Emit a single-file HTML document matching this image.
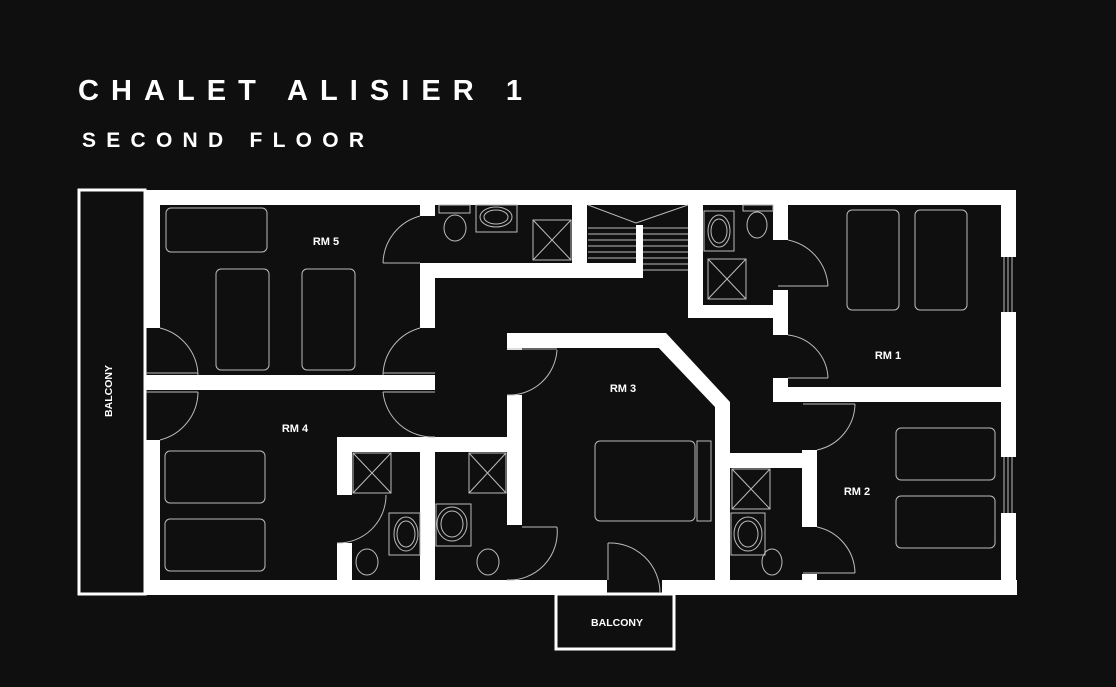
<!DOCTYPE html>
<html><head><meta charset="utf-8"><style>
html,body{margin:0;padding:0;background:#0f0f0f;}
svg{display:block}
</style></head><body>
<svg width="1116" height="687" viewBox="0 0 1116 687" xmlns="http://www.w3.org/2000/svg" font-family="Liberation Sans, sans-serif">
<rect width="1116" height="687" fill="#0f0f0f"/>
<text x="78" y="100" fill="#fff" font-size="29" font-weight="bold" textLength="444" lengthAdjust="spacing">CHALET ALISIER 1</text>
<text x="82" y="147" fill="#fff" font-size="21" font-weight="bold" textLength="282" lengthAdjust="spacing">SECOND FLOOR</text>

<!-- balconies -->
<rect x="79" y="190" width="66" height="404" fill="#0f0f0f" stroke="#fff" stroke-width="3"/>
<rect x="556" y="594" width="118" height="55" fill="#0f0f0f" stroke="#fff" stroke-width="3"/>

<g fill="#fff">
<!-- outer -->
<rect x="145" y="190" width="871" height="15"/>
<rect x="145" y="190" width="15" height="138"/>
<rect x="145" y="375" width="290" height="15"/>
<rect x="145" y="440" width="15" height="155"/>
<rect x="145" y="580" width="462" height="15"/>
<rect x="662" y="580" width="355" height="15"/>
<rect x="1001" y="190" width="15" height="67"/>
<rect x="1001" y="312" width="15" height="145"/>
<rect x="1001" y="513" width="15" height="82"/>
<!-- rm5 bath -->
<rect x="420" y="205" width="15" height="11"/>
<rect x="420" y="263" width="15" height="65"/>
<rect x="420" y="263" width="223" height="15"/>
<rect x="572" y="205" width="15" height="60"/>
<rect x="636" y="225" width="7" height="53"/>
<!-- rm1 bath -->
<rect x="688" y="205" width="15" height="113"/>
<rect x="688" y="305" width="100" height="13"/>
<rect x="773" y="205" width="15" height="35"/>
<rect x="773" y="290" width="15" height="45"/>
<rect x="773" y="378" width="15" height="24"/>
<rect x="773" y="387" width="230" height="15"/>
<!-- rm3 -->
<rect x="507" y="333" width="156" height="15"/>
<polygon points="656,333 666,333 730,402 730,412 715,412 715,407 656,345"/>
<rect x="715" y="405" width="15" height="176"/>
<rect x="507" y="333" width="15" height="17"/>
<rect x="507" y="395" width="15" height="130"/>
<!-- rm4 baths -->
<rect x="337" y="437" width="185" height="15"/>
<rect x="337" y="437" width="15" height="58"/>
<rect x="337" y="543" width="15" height="40"/>
<rect x="420" y="437" width="15" height="145"/>
<!-- rm2 bath -->
<rect x="730" y="453" width="87" height="15"/>
<rect x="802" y="450" width="15" height="77"/>
<rect x="802" y="574" width="15" height="8"/>
</g>

<g fill="none" stroke="#bbb" stroke-width="1">
<!-- windows -->
<line x1="1004" y1="257" x2="1004" y2="312"/><line x1="1008" y1="257" x2="1008" y2="312"/><line x1="1012" y1="257" x2="1012" y2="312"/>
<line x1="1004" y1="457" x2="1004" y2="513"/><line x1="1008" y1="457" x2="1008" y2="513"/><line x1="1012" y1="457" x2="1012" y2="513"/>
<!-- beds rm5 -->
<rect x="166" y="208" width="101" height="44" rx="5"/>
<rect x="216" y="269" width="53" height="101" rx="5"/>
<rect x="302" y="269" width="53" height="101" rx="5"/>
<!-- rm4 -->
<rect x="165" y="451" width="100" height="52" rx="5"/>
<rect x="165" y="519" width="100" height="52" rx="5"/>
<!-- rm1 -->
<rect x="847" y="210" width="52" height="100" rx="5"/>
<rect x="915" y="210" width="52" height="100" rx="5"/>
<!-- rm2 -->
<rect x="896" y="428" width="99" height="52" rx="5"/>
<rect x="896" y="496" width="99" height="52" rx="5"/>
<!-- rm3 -->
<rect x="595" y="441" width="100" height="80" rx="5"/>
<rect x="697" y="441" width="14" height="80"/>
<!-- showers -->
<g>
<rect x="533" y="220" width="38" height="40"/><path d="M533 220L571 260M571 220L533 260"/>
<rect x="708" y="259" width="38" height="40"/><path d="M708 259L746 299M746 259L708 299"/>
<rect x="353" y="453" width="38" height="40"/><path d="M353 453L391 493M391 453L353 493"/>
<rect x="469" y="453" width="37" height="40"/><path d="M469 453L506 493M506 453L469 493"/>
<rect x="732" y="469" width="38" height="40"/><path d="M732 469L770 509M770 469L732 509"/>
</g>
<!-- basins -->
<rect x="476" y="205" width="41" height="27"/><ellipse cx="496" cy="217" rx="16" ry="10"/><ellipse cx="496" cy="217" rx="12" ry="7"/>
<rect x="704" y="211" width="30" height="40"/><ellipse cx="719" cy="231" rx="11" ry="16"/><ellipse cx="719" cy="231" rx="8" ry="12"/>
<rect x="389" y="513" width="31" height="42"/><ellipse cx="406" cy="534" rx="12" ry="17"/><ellipse cx="406" cy="534" rx="9" ry="13"/>
<rect x="436" y="504" width="35" height="42"/><ellipse cx="452" cy="524" rx="15" ry="17"/><ellipse cx="452" cy="524" rx="11" ry="13"/>
<rect x="731" y="513" width="34" height="42"/><ellipse cx="748" cy="534" rx="14" ry="17"/><ellipse cx="748" cy="534" rx="10" ry="13"/>
<!-- toilets -->
<ellipse cx="455" cy="228" rx="11" ry="13"/><rect x="439" y="205" width="31" height="8"/>
<ellipse cx="757" cy="225" rx="10" ry="13"/><rect x="743" y="205" width="30" height="6"/>
<ellipse cx="367" cy="562" rx="11" ry="13"/>
<ellipse cx="488" cy="562" rx="11" ry="13"/>
<ellipse cx="772" cy="562" rx="10" ry="13"/>
<!-- door arcs -->
<path d="M383 263A50 50 0 0 1 420 216"/><line x1="383" y1="263" x2="420" y2="263"/>
<path d="M160 328A50 50 0 0 1 198 375"/><line x1="146" y1="373" x2="198" y2="373"/>
<path d="M160 440A50 50 0 0 0 198 392"/><line x1="146" y1="392" x2="198" y2="392"/>
<path d="M420 328A50 50 0 0 0 383 375"/><line x1="383" y1="373" x2="435" y2="373"/>
<path d="M435 437A50 50 0 0 1 383 392"/><line x1="383" y1="392" x2="435" y2="392"/>
<path d="M507 395A48 48 0 0 0 557 350"/><line x1="507" y1="349" x2="557" y2="349"/>
<path d="M507 580A48 48 0 0 0 557 527"/><line x1="522" y1="527" x2="557" y2="527"/>
<path d="M337 543A48 48 0 0 0 386 495"/>
<path d="M608 543A50 50 0 0 1 660 593"/><line x1="608" y1="543" x2="608" y2="580"/>
<path d="M788 240A50 50 0 0 1 828 286"/><line x1="778" y1="286" x2="828" y2="286"/>
<path d="M788 335A45 45 0 0 1 828 378"/><line x1="788" y1="378" x2="828" y2="378"/>
<path d="M817 450A48 48 0 0 0 855 404"/><line x1="803" y1="404" x2="855" y2="404"/>
<path d="M817 527A48 48 0 0 1 855 573"/><line x1="803" y1="573" x2="855" y2="573"/>
<!-- stairs -->
<path d="M588 205L636 223L688 205"/>
<line x1="588" y1="228" x2="636" y2="228"/><line x1="588" y1="234" x2="636" y2="234"/><line x1="588" y1="240" x2="636" y2="240"/><line x1="588" y1="246" x2="636" y2="246"/><line x1="588" y1="252" x2="636" y2="252"/><line x1="588" y1="258" x2="636" y2="258"/>
<line x1="643" y1="228" x2="688" y2="228"/><line x1="643" y1="234" x2="688" y2="234"/><line x1="643" y1="240" x2="688" y2="240"/><line x1="643" y1="246" x2="688" y2="246"/><line x1="643" y1="252" x2="688" y2="252"/><line x1="643" y1="258" x2="688" y2="258"/><line x1="643" y1="264" x2="688" y2="264"/><line x1="643" y1="270" x2="688" y2="270"/>
</g>

<g fill="#fff" font-size="11" font-weight="bold" text-anchor="middle">
<text x="326" y="245">RM 5</text>
<text x="295" y="432">RM 4</text>
<text x="623" y="392">RM 3</text>
<text x="888" y="359">RM 1</text>
<text x="857" y="495">RM 2</text>
<text x="617" y="626" font-size="10.5">BALCONY</text>
<text x="0" y="0" font-size="10.5" transform="translate(112,391) rotate(-90)">BALCONY</text>
</g>
</svg>
</body></html>
